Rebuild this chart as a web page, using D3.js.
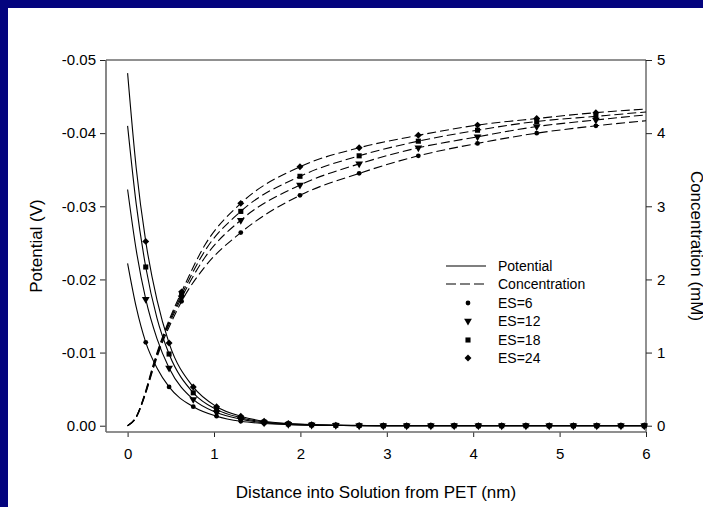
<!DOCTYPE html>
<html>
<head>
<meta charset="utf-8">
<script src="https://cdn.jsdelivr.net/npm/d3@7"></script>
<style>
body { margin: 0; background: #fff; }
text { font-family: Arial, "Liberation Sans", sans-serif; fill: #000; }
</style>
</head>
<body>
<div id="chart"></div>
<script>
// potential curves (V), sampled along distance (nm)
var potX = [0, 0.1, 0.21, 0.34, 0.48, 0.76, 1.03, 1.31, 1.58, 1.86, 2.13, 2.41, 2.68,
            2.96, 3.23, 3.51, 3.78, 4.06, 4.33, 4.61, 4.88, 5.16, 5.43, 5.71, 5.98, 6.0];
var potMarkX = [0.21, 0.48, 0.76, 1.03, 1.31, 1.58, 1.86, 2.13, 2.41, 2.68, 2.96, 3.23,
                3.51, 3.78, 4.06, 4.33, 4.61, 4.88, 5.16, 5.43, 5.71, 5.98];
var potES6  = [-0.0222, -0.0162, -0.0114, -0.0079, -0.0053, -0.0026, -0.0013, -0.0006, -0.0003, -0.00015, -0.00007, -0.00003, 0,
               0, 0, 0, 0, 0, 0, 0, 0, 0, 0, 0, 0, 0];
var potES12 = [-0.0323, -0.0240, -0.0173, -0.0119, -0.0079, -0.0036, -0.0018, -0.0009, -0.0004, -0.0002, -0.0001, -0.00005, 0,
               0, 0, 0, 0, 0, 0, 0, 0, 0, 0, 0, 0, 0];
var potES18 = [-0.0410, -0.0303, -0.0217, -0.0147, -0.0098, -0.0045, -0.0022, -0.0011, -0.0005, -0.00025, -0.00012, -0.00006, -0.00003,
               0, 0, 0, 0, 0, 0, 0, 0, 0, 0, 0, 0, 0];
var potES24 = [-0.0482, -0.0352, -0.0252, -0.0172, -0.0113, -0.0053, -0.0026, -0.0013, -0.0006, -0.0003, -0.00015, -0.00008, -0.00004,
               0, 0, 0, 0, 0, 0, 0, 0, 0, 0, 0, 0, 0];

// concentration curves (mM)
var concX = [0, 0.1, 0.2, 0.3, 0.4, 0.5, 0.625, 0.9, 1.31, 1.995, 2.68, 3.365, 4.05, 4.735, 5.42, 6.0];
var concMarkX = [0.625, 1.31, 1.995, 2.68, 3.365, 4.05, 4.735, 5.42];
var concES6  = [0, 0.11, 0.41, 0.79, 1.13, 1.40, 1.70, 2.18, 2.64, 3.15, 3.45, 3.69, 3.86, 4.00, 4.10, 4.17];
var concES12 = [0, 0.12, 0.42, 0.81, 1.16, 1.44, 1.75, 2.31, 2.81, 3.29, 3.58, 3.80, 3.95, 4.09, 4.18, 4.25];
var concES18 = [0, 0.12, 0.43, 0.83, 1.18, 1.47, 1.79, 2.40, 2.93, 3.41, 3.69, 3.89, 4.04, 4.16, 4.23, 4.29];
var concES24 = [0, 0.12, 0.44, 0.85, 1.20, 1.50, 1.83, 2.48, 3.04, 3.54, 3.80, 3.97, 4.11, 4.20, 4.28, 4.33];

var seriesNames = ["ES=6", "ES=12", "ES=18", "ES=24"];
var xTicks = [0, 1, 2, 3, 4, 5, 6];
var potTicks = [0, -0.01, -0.02, -0.03, -0.04, -0.05];
var concTicks = [0, 1, 2, 3, 4, 5];

(function() {
    var W = 703, H = 507;
    var pl = 106, pr = 646, pt = 60, pb = 432;

    var svg = d3.select("#chart").append("svg").attr("width", W).attr("height", H);

    // slide background border
    svg.append("rect").attr("x", 0).attr("y", 0).attr("width", W).attr("height", H).attr("fill", "#04047e");
    svg.append("rect").attr("x", 8).attr("y", 8).attr("width", W - 8).attr("height", H - 8).attr("fill", "#fff");

    var x = d3.scaleLinear().domain([-0.25, 6]).range([pl, pr]);
    var yP = d3.scaleLinear().domain([0.00086, -0.05]).range([pb, pt]);
    var yC = d3.scaleLinear().domain([-0.086, 5]).range([pb, pt]);

    // axes
    svg.append("g").attr("transform", "translate(" + pl + ",0)")
        .call(d3.axisLeft(yP).tickValues(potTicks).tickSize(6).tickPadding(4).tickFormat(function(d){ return d.toFixed(2); }))
        .call(function(g){ g.select(".domain").remove(); });
    svg.append("g").attr("transform", "translate(" + pr + ",0)")
        .call(d3.axisRight(yC).tickValues(concTicks).tickSize(6).tickPadding(5).tickFormat(d3.format("d")))
        .call(function(g){ g.select(".domain").remove(); });
    svg.append("g").attr("transform", "translate(0," + pb + ")")
        .call(d3.axisBottom(x).tickValues(xTicks).tickSize(5).tickPadding(11).tickFormat(d3.format("d")))
        .call(function(g){ g.select(".domain").remove(); });
    svg.selectAll(".tick text").style("font-size", "15px").style("font-family", "Arial, 'Liberation Sans', sans-serif").attr("fill", "#000");
    svg.selectAll(".tick line").attr("stroke", "#222");

    // frame
    svg.append("line").attr("x1", pl).attr("x2", pr).attr("y1", pt).attr("y2", pt).attr("stroke", "#222");
    svg.append("line").attr("x1", pr).attr("x2", pr).attr("y1", pt).attr("y2", pb).attr("stroke", "#222");
    svg.append("line").attr("x1", pl).attr("x2", pl).attr("y1", pt).attr("y2", pb).attr("stroke", "#6a6a6a").attr("stroke-width", 1.6);
    svg.append("line").attr("x1", pl).attr("x2", pr).attr("y1", pb).attr("y2", pb).attr("stroke", "#6a6a6a").attr("stroke-width", 1.6);

    // axis titles
    svg.append("text").attr("x", (pl + pr) / 2).attr("y", 498).attr("text-anchor", "middle")
        .style("font-size", "17px").text("Distance into Solution from PET (nm)");
    svg.append("text").attr("transform", "translate(42," + (pt + pb) / 2 + ") rotate(-90)")
        .attr("text-anchor", "middle").style("font-size", "17px").text("Potential (V)");
    svg.append("text").attr("transform", "translate(691," + (pt + pb) / 2 + ") rotate(90)")
        .attr("text-anchor", "middle").style("font-size", "17px").text("Concentration (mM)");

    var plot = svg.append("g");

    var potSeries = [potES6, potES12, potES18, potES24];
    var concSeries = [concES6, concES12, concES18, concES24];

    var potLine = d3.line().x(function(d){ return x(d[0]); }).y(function(d){ return yP(d[1]); }).curve(d3.curveMonotoneX);
    var concLine = d3.line().x(function(d){ return x(d[0]); }).y(function(d){ return yC(d[1]); }).curve(d3.curveMonotoneX);

    potSeries.forEach(function(s){
        plot.append("path").datum(d3.zip(potX, s)).attr("d", potLine)
            .attr("fill", "none").attr("stroke", "#000").attr("stroke-width", 1.1);
    });
    concSeries.forEach(function(s){
        plot.append("path").datum(d3.zip(concX, s)).attr("d", concLine)
            .attr("fill", "none").attr("stroke", "#000").attr("stroke-width", 1.1).attr("stroke-dasharray", "9,4");
    });

    // marker shapes per series
    var shapes = [
        { type: d3.symbolCircle, size: 18, rot: 0 },
        { type: d3.symbolTriangle, size: 26, rot: 180 },
        { type: d3.symbolSquare, size: 26, rot: 0 },
        { type: d3.symbolSquare, size: 24, rot: 45 }
    ];

    function drawMarker(g, i, cx, cy) {
        g.append("path").attr("d", d3.symbol().type(shapes[i].type).size(shapes[i].size)())
            .attr("transform", "translate(" + cx + "," + cy + ") rotate(" + shapes[i].rot + ")")
            .attr("fill", "#000");
    }

    potSeries.forEach(function(s, i){
        potMarkX.forEach(function(mx){
            var k = potX.indexOf(mx);
            drawMarker(plot, i, x(mx), yP(s[k]));
        });
    });
    concSeries.forEach(function(s, i){
        concMarkX.forEach(function(mx){
            var k = concX.indexOf(mx);
            drawMarker(plot, i, x(mx), yC(s[k]));
        });
    });

    // legend
    var lg = svg.append("g");
    var lgY = [266, 284, 303, 321, 340, 358];
    lg.append("line").attr("x1", 446).attr("x2", 486).attr("y1", lgY[0]).attr("y2", lgY[0]).attr("stroke", "#000").attr("stroke-width", 1.1);
    lg.append("line").attr("x1", 446).attr("x2", 486).attr("y1", lgY[1]).attr("y2", lgY[1]).attr("stroke", "#000").attr("stroke-width", 1.1).attr("stroke-dasharray", "10,4");
    var lgLabels = ["Potential", "Concentration"].concat(seriesNames);
    lgLabels.forEach(function(t, i){
        lg.append("text").attr("x", 498).attr("y", lgY[i] + 5).style("font-size", "14px").text(t);
        if (i >= 2) drawMarker(lg, i - 2, 468, lgY[i]);
    });
})();
</script>
</body>
</html>
